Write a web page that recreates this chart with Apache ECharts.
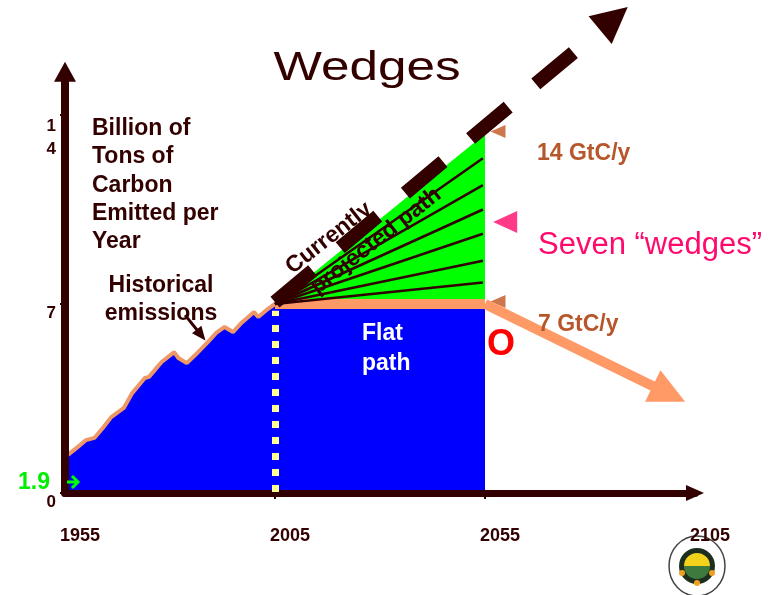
<!DOCTYPE html>
<html>
<head>
<meta charset="utf-8">
<title>Wedges</title>
<script src="https://cdn.jsdelivr.net/npm/echarts@6/dist/echarts.min.js"></script>
<style>
  html, body { margin: 0; padding: 0; background: #fff; }
  #main { width: 774px; height: 595px; }
</style>
</head>
<body>
<div id="main"></div>
<script>
// tick labels
var yearTicks = [1955, 2005, 2055, 2105];
var valueTicks = [0, 7, 14];

// historical emissions
var histYears = [1955, 1958, 1960, 1962, 1964, 1966, 1969, 1971, 1974, 1975, 1977, 1978, 1981,
  1982, 1984, 1986, 1989, 1991, 1993, 1995, 1997, 2000, 2001, 2003, 2005];
var histValues = [1.33, 1.7, 1.96, 2.04, 2.41, 2.81, 3.15, 3.7, 4.26, 4.3, 4.67, 4.85, 5.22,
  5.0, 4.81, 5.11, 5.59, 5.93, 6.15, 5.96, 6.3, 6.7, 6.52, 6.78, 7.0];

// flat path
var flatYears = [2005, 2055];
var flatValues = [7, 7];

// seven wedges: top of the triangle and the six lines between them (value at 2055)
var wedgeTop = 13.3;
var wedgeLines = [12.4, 11.4, 10.5, 9.6, 8.6, 7.8];

// currently projected path (dashed arrow) and the decline after 2055
var projYears = [2005, 2085.7];
var projValues = [7.07, 17.57];
var declineYears = [2055, 2098.8];
var declineValues = [7, 3.67];

var DARK = '#330000';
var SALMON = '#FF9966';
var FONT = '"Liberation Sans", Arial, sans-serif';

var myChart = echarts.init(document.getElementById('main'));

function pair(a, b) {
  return [{ coord: a }, { coord: b }];
}

function txt(x, base, text, size, color, weight, align, lh, extra) {
  lh = lh || Math.round(size * 1.2);
  var el = {
    type: 'text',
    x: x,
    y: base - 0.35 * size - lh / 2,
    z: 100,
    style: {
      text: text,
      fill: color,
      font: weight + ' ' + size + 'px ' + FONT,
      align: align,
      verticalAlign: 'top',
      lineHeight: lh
    }
  };
  return Object.assign(el, extra || {});
}

function rotTxt(cx, cy, text, size, deg) {
  return {
    type: 'text',
    x: cx,
    y: cy,
    rotation: deg * Math.PI / 180,
    z: 100,
    style: {
      text: text,
      fill: DARK,
      font: 'bold ' + size + 'px ' + FONT,
      align: 'center',
      verticalAlign: 'middle'
    }
  };
}

var wedgeData = wedgeLines.map(function (v) {
  return pair([flatYears[0], flatValues[0]], [2054.5, v]);
});

const option = {
  backgroundColor: '#fff',
  animation: false,
  grid: { left: 65, right: 79, top: 71.8, bottom: 102 },
  xAxis: {
    type: 'value',
    min: 1955,
    max: 2105,
    z: 10,
    splitLine: { show: false },
    axisLine: {
      show: true,
      onZero: false,
      symbol: ['none', 'triangle'],
      symbolSize: [16, 18],
      lineStyle: { color: DARK, width: 7 }
    },
    axisTick: {
      show: true,
      customValues: [2005, 2055],
      length: 6,
      lineStyle: { color: DARK, width: 2 }
    },
    axisLabel: {
      customValues: yearTicks,
      formatter: function (v) { return String(v); },
      margin: 34,
      color: DARK,
      fontWeight: 'bold',
      fontSize: 18,
      fontFamily: FONT,
      padding: [0, 0, 0, 30]
    }
  },
  yAxis: {
    type: 'value',
    min: 0,
    max: 15.6,
    z: 10,
    splitLine: { show: false },
    axisLine: {
      show: true,
      onZero: false,
      symbol: ['none', 'triangle'],
      symbolSize: [22, 20],
      lineStyle: { color: DARK, width: 8 }
    },
    axisTick: {
      show: true,
      customValues: valueTicks,
      length: 5,
      lineStyle: { color: DARK, width: 2 }
    },
    axisLabel: {
      customValues: valueTicks,
      formatter: function (v) { return v === 14 ? '{t|1}\n{t|4}' : String(v); },
      margin: 9,
      verticalAlign: 'top',
      lineHeight: 19,
      color: DARK,
      fontWeight: 'bold',
      fontSize: 17,
      fontFamily: FONT,
      rich: {
        t: { lineHeight: 23, color: DARK, fontWeight: 'bold', fontSize: 17, fontFamily: FONT }
      }
    }
  },
  series: [
    {
      // green wedge triangle (part below 7 is covered by the flat path)
      name: 'Wedges',
      type: 'line',
      symbol: 'none',
      data: [[flatYears[0], flatValues[0]], [flatYears[1], wedgeTop], [flatYears[1], flatValues[1]]],
      lineStyle: { width: 0 },
      areaStyle: { color: '#00FF00', opacity: 1 }
    },
    {
      name: 'Historical emissions',
      type: 'line',
      symbol: 'none',
      data: histYears.map(function (y, i) { return [y, histValues[i]]; }),
      lineStyle: { color: '#EE9868', width: 4 },
      areaStyle: { color: '#0000FF', opacity: 1 }
    },
    {
      name: 'Flat path',
      type: 'line',
      symbol: 'none',
      data: flatYears.map(function (y, i) { return [y, flatValues[i]]; }),
      lineStyle: { color: SALMON, width: 10, cap: 'butt' },
      areaStyle: { color: '#0000FF', opacity: 1 }
    },
    {
      // wedge dividing lines
      type: 'line',
      data: [],
      clip: false,
      markLine: {
        silent: true,
        symbol: ['none', 'none'],
        label: { show: false },
        lineStyle: { color: DARK, width: 2.5, type: 'solid' },
        data: wedgeData
      }
    },
    {
      // decline after 2055
      type: 'line',
      data: [],
      clip: false,
      markLine: {
        silent: true,
        symbol: ['none', 'triangle'],
        symbolSize: [35, 36],
        label: { show: false },
        lineStyle: { color: SALMON, width: 10, type: 'solid', cap: 'butt' },
        data: [pair([declineYears[0], declineValues[0]], [declineYears[1], declineValues[1]])]
      }
    },
    {
      // 2005 dotted divider
      type: 'line',
      data: [],
      clip: false,
      markLine: {
        silent: true,
        z: 12,
        symbol: ['none', 'none'],
        label: { show: false },
        lineStyle: { color: '#FFFF99', width: 7, type: [7, 9], cap: 'butt' },
        data: [pair([2005, 0.04], [2005, 6.75])]
      }
    },
    {
      // pointer from "emissions" to the curve
      type: 'line',
      data: [],
      clip: false,
      markLine: {
        silent: true,
        symbol: ['none', 'triangle'],
        symbolSize: [12, 14],
        label: { show: false },
        lineStyle: { color: DARK, width: 3, type: 'solid' },
        data: [pair([1983.6, 6.59], [1987.4, 5.85])]
      }
    },
    {
      // currently projected path, runs past the top of the axis
      name: 'Currently projected path',
      type: 'lines',
      coordinateSystem: 'cartesian2d',
      clip: false,
      silent: true,
      z: 8,
      symbol: ['none', 'triangle'],
      symbolSize: [35, 36],
      lineStyle: { color: DARK, width: 14, type: [49, 36], cap: 'butt', opacity: 1 },
      data: [{ coords: [[projYears[0], projValues[0]], [projYears[1], projValues[1]]] }]
    },
    {
      // 14 and 7 GtC/y markers
      type: 'scatter',
      symbol: 'triangle',
      symbolRotate: 90,
      symbolSize: [13, 15],
      itemStyle: { color: '#C0561F' },
      data: [[2058.1, 13.39], [2058.1, 7.09]]
    },
    {
      // seven wedges marker
      type: 'scatter',
      symbol: 'triangle',
      symbolRotate: 90,
      symbolSize: [22, 24],
      itemStyle: { color: '#FF0A6C' },
      data: [[2059.8, 10.04]]
    }
  ],
  graphic: [
    txt(367, 83, 'Wedges', 41, DARK, 'normal', 'center', null, { scaleX: 1.25 }),
    txt(92, 136.7, 'Billion of\nTons of\nCarbon\nEmitted per\nYear', 23, DARK, 'bold', 'left', 28.3),
    txt(161, 294, 'Historical\nemissions', 23, DARK, 'bold', 'center', 28),
    rotTxt(329, 238, 'Currently', 23, 38),
    rotTxt(376, 241, 'projected path', 23, 38),
    txt(537, 162, '14 GtC/y', 23, '#B8562B', 'bold', 'left'),
    txt(538, 256.7, 'Seven \u201cwedges\u201d', 31, '#FF0A6C', 'normal', 'left'),
    txt(538, 333, '7 GtC/y', 23, '#B8562B', 'bold', 'left'),
    txt(362, 341.7, 'Flat\npath', 23, '#FFFFFF', 'bold', 'left', 30),
    txt(487, 358, 'O', 36, '#FF0000', 'bold', 'left'),
    txt(50, 490.7, '1.9', 23, '#00EE00', 'bold', 'right'),
    {
      type: 'polyline', z: 100,
      shape: { points: [[67, 482], [78, 482]] },
      style: { stroke: '#00FF00', lineWidth: 3, fill: null }
    },
    {
      type: 'polyline', z: 100,
      shape: { points: [[72, 476], [78, 482], [72, 488]] },
      style: { stroke: '#00FF00', lineWidth: 3, fill: null }
    },
    // logo
    {
      type: 'group', x: 697, y: 566, z: 1,
      children: [
        { type: 'ellipse', shape: { cx: 0, cy: 0, rx: 28, ry: 30 }, style: { fill: '#fff', stroke: '#444', lineWidth: 1.5 } },
        { type: 'circle', shape: { cx: 0, cy: 0, r: 18 }, style: { fill: '#1E2E1E' } },
        { type: 'sector', shape: { cx: 0, cy: 0, r: 13, startAngle: Math.PI, endAngle: 2 * Math.PI }, style: { fill: '#F2D21B' } },
        { type: 'sector', shape: { cx: 0, cy: 0, r: 13, startAngle: 0, endAngle: Math.PI }, style: { fill: '#3E7A3E' } },
        { type: 'circle', shape: { cx: -15, cy: 7, r: 3 }, style: { fill: '#F0A020' } },
        { type: 'circle', shape: { cx: 15, cy: 7, r: 3 }, style: { fill: '#F0A020' } },
        { type: 'circle', shape: { cx: 0, cy: 17, r: 3 }, style: { fill: '#F0A020' } }
      ]
    }
  ]
};

myChart.setOption(option);
</script>
</body>
</html>
